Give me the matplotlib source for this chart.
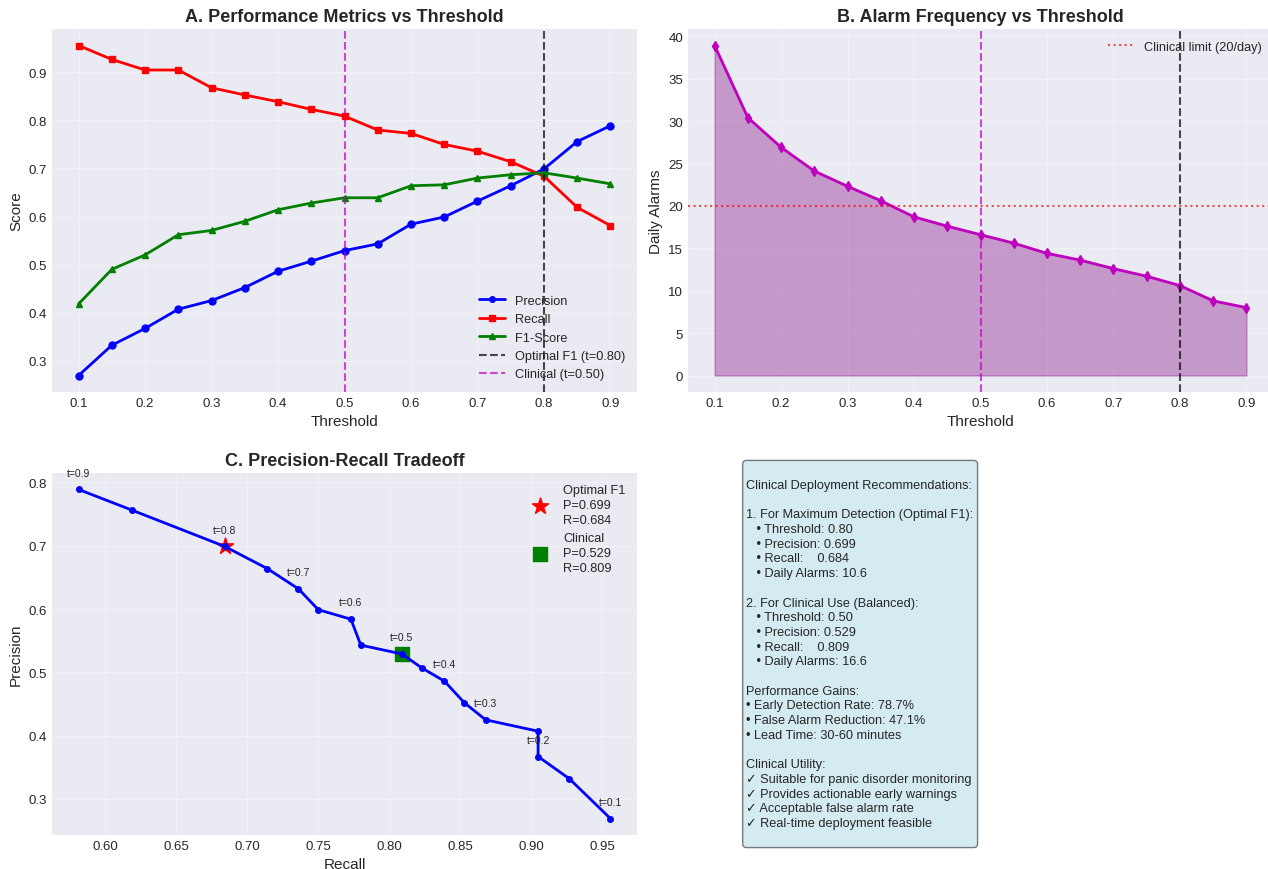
import matplotlib
matplotlib.use("Agg")
import matplotlib.pyplot as plt
import numpy as np

plt.style.use('seaborn-v0_8-darkgrid')
plt.rcParams['font.family'] = ['Liberation Sans', 'DejaVu Sans']

thresholds = [0.10, 0.15, 0.20, 0.25, 0.30, 0.35, 0.40, 0.45, 0.50,
              0.55, 0.60, 0.65, 0.70, 0.75, 0.80, 0.85, 0.90]
precision = [0.269, 0.332, 0.367, 0.407, 0.425, 0.452, 0.486, 0.507, 0.529,
             0.543, 0.584, 0.599, 0.632, 0.664, 0.699, 0.756, 0.789]
recall = [0.956, 0.927, 0.905, 0.905, 0.868, 0.853, 0.839, 0.823, 0.809,
          0.780, 0.773, 0.750, 0.736, 0.714, 0.684, 0.619, 0.581]
f1 = [0.418, 0.490, 0.520, 0.562, 0.571, 0.590, 0.614, 0.628, 0.639,
      0.639, 0.664, 0.666, 0.680, 0.687, 0.691, 0.680, 0.668]
alarms = [38.9, 30.4, 26.9, 24.1, 22.3, 20.6, 18.7, 17.6, 16.6,
          15.6, 14.4, 13.6, 12.6, 11.7, 10.6, 8.8, 8.0]

opt_t, opt_p, opt_r = 0.80, 0.699, 0.684
clin_t, clin_p, clin_r = 0.50, 0.529, 0.809
clinical_limit = 20

summary = """
Clinical Deployment Recommendations:

1. For Maximum Detection (Optimal F1):
   • Threshold: 0.80
   • Precision: 0.699
   • Recall:    0.684
   • Daily Alarms: 10.6

2. For Clinical Use (Balanced):
   • Threshold: 0.50
   • Precision: 0.529
   • Recall:    0.809
   • Daily Alarms: 16.6

Performance Gains:
• Early Detection Rate: 78.7%
• False Alarm Reduction: 47.1%
• Lead Time: 30-60 minutes

Clinical Utility:
\u2713 Suitable for panic disorder monitoring
\u2713 Provides actionable early warnings
\u2713 Acceptable false alarm rate
\u2713 Real-time deployment feasible
"""

W, H = 1268, 870
fig = plt.figure(figsize=(W / 100, H / 100), dpi=100)

def rect(l, t, r, b):
    return [l / W, (H - b) / H, (r - l) / W, (b - t) / H]

axA = fig.add_axes(rect(52, 30, 637, 393))
axB = fig.add_axes(rect(688, 30, 1273, 393))
axC = fig.add_axes(rect(52, 474, 637, 836))
axD = fig.add_axes(rect(688, 474, 1273, 836))

title_kw = dict(fontsize=13, fontweight='bold')
leg_fs = 9.2

# A
axA.plot(thresholds, precision, 'b-o', linewidth=2, markersize=5, label='Precision')
axA.plot(thresholds, recall, 'r-s', linewidth=2, markersize=5, label='Recall')
axA.plot(thresholds, f1, 'g-^', linewidth=2, markersize=5, label='F1-Score')
axA.axvline(opt_t, color='k', linestyle='--', alpha=0.7, label=f'Optimal F1 (t={opt_t:.2f})')
axA.axvline(clin_t, color='m', linestyle='--', alpha=0.7, label=f'Clinical (t={clin_t:.2f})')
axA.set_xlabel('Threshold', fontsize=11)
axA.set_ylabel('Score', fontsize=11)
axA.set_title('A. Performance Metrics vs Threshold', **title_kw)
axA.legend(loc='lower right', fontsize=leg_fs, markerscale=0.8)
axA.grid(True, alpha=0.3)

# B
axB.plot(thresholds, alarms, color='m', marker='d', linewidth=2, markersize=5)
axB.fill_between(thresholds, alarms, color='purple', alpha=0.35)
axB.axhline(clinical_limit, color='red', linestyle=':', alpha=0.7, label='Clinical limit (20/day)')
axB.axvline(opt_t, color='k', linestyle='--', alpha=0.7)
axB.axvline(clin_t, color='m', linestyle='--', alpha=0.7)
axB.set_xlabel('Threshold', fontsize=11)
axB.set_ylabel('Daily Alarms', fontsize=11)
axB.set_title('B. Alarm Frequency vs Threshold', **title_kw)
axB.legend(loc='upper right', fontsize=leg_fs)
axB.grid(True, alpha=0.3)

# C
axC.plot(recall, precision, 'b-o', linewidth=2, markersize=4)
axC.scatter([opt_r], [opt_p], s=150, marker='*', c='red',
            label=f'Optimal F1\nP={opt_p:.3f}\nR={opt_r:.3f}')
axC.scatter([clin_r], [clin_p], s=100, marker='s', c='green',
            label=f'Clinical\nP={clin_p:.3f}\nR={clin_r:.3f}')
for i in range(0, len(thresholds), 2):
    axC.annotate(f't={thresholds[i]:.1f}', (recall[i], precision[i]),
                 textcoords='offset points', xytext=(0, 10), ha='center', fontsize=7.5)
axC.set_xlabel('Recall', fontsize=11)
axC.set_ylabel('Precision', fontsize=11)
axC.set_title('C. Precision-Recall Tradeoff', **title_kw)
legC = axC.legend(loc='upper right', fontsize=leg_fs)
for t in legC.get_texts():
    t.set_linespacing(1.3)
axC.grid(True, alpha=0.3)

# D
axD.axis('off')
axD.text(0.1, 0.5, summary, transform=axD.transAxes, fontsize=9.2,
         va='center', ha='left', linespacing=1.3,
         bbox=dict(boxstyle='round', facecolor='lightblue', alpha=0.5))

for ax in (axA, axB, axC):
    ax.tick_params(labelsize=9.5)

fig.savefig('out.png', dpi=100)
